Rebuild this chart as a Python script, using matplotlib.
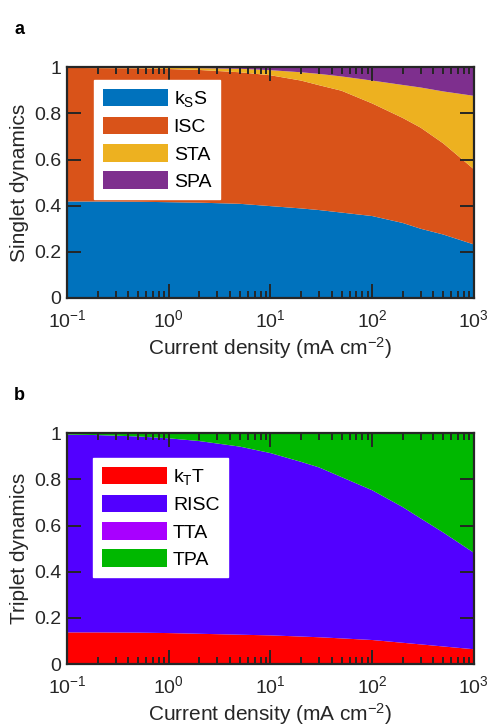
import matplotlib.pyplot as plt
from matplotlib.ticker import LogLocator, FixedLocator, FuncFormatter

plt.rcParams['font.family'] = ['Liberation Sans', 'DejaVu Sans']
plt.rcParams['mathtext.fontset'] = 'custom'
plt.rcParams['mathtext.rm'] = 'Liberation Sans'
plt.rcParams['mathtext.it'] = 'Liberation Sans:italic'

# current density (mA cm-2)
j = [0.1, 0.2, 0.5, 1, 2, 5, 10, 20, 30, 50, 100, 200, 300, 500, 1000]

# panel a, cumulative tops
a_kss = [0.418, 0.418, 0.417, 0.415, 0.413, 0.408, 0.398, 0.388, 0.381, 0.370, 0.355, 0.325, 0.300, 0.275, 0.232]
a_isc = [0.997, 0.996, 0.995, 0.992, 0.988, 0.978, 0.965, 0.942, 0.922, 0.898, 0.843, 0.780, 0.738, 0.670, 0.558]
a_sta = [0.999, 0.999, 0.999, 0.998, 0.996, 0.993, 0.987, 0.978, 0.971, 0.960, 0.942, 0.923, 0.912, 0.895, 0.876]

# panel b, cumulative tops
b_ktt = [0.137, 0.137, 0.136, 0.134, 0.131, 0.127, 0.124, 0.119, 0.116, 0.111, 0.104, 0.092, 0.085, 0.076, 0.064]
b_risc = [0.994, 0.992, 0.986, 0.978, 0.966, 0.942, 0.914, 0.876, 0.852, 0.810, 0.753, 0.680, 0.631, 0.570, 0.482]
b_tta = b_risc  # TTA share is too small to see

labels_a = ['k$_\\mathregular{S}$S', 'ISC', 'STA', 'SPA']
labels_b = ['k$_\\mathregular{T}$T', 'RISC', 'TTA', 'TPA']
cols_a = ['#0072BD', '#D95319', '#EDB120', '#7E2F8E']
cols_b = ['#FF0000', '#5200FF', '#A800FF', '#00B800']


def parts(tops):
    out = []
    prev = [0.0] * len(j)
    for t in tops + [[1.0] * len(j)]:
        out.append([t[i] - prev[i] for i in range(len(j))])
        prev = t
    return out


fig = plt.figure(figsize=(4.9, 7.28), dpi=100)
ax1 = fig.add_axes([0.137, 0.5907, 0.830, 0.317])
ax2 = fig.add_axes([0.137, 0.0879, 0.830, 0.317])

panels = [(ax1, parts([a_kss, a_isc, a_sta]), labels_a, cols_a, 'Singlet dynamics', 'a', (0.066, 0.944)),
          (ax2, parts([b_ktt, b_risc, b_tta]), labels_b, cols_b, 'Triplet dynamics', 'b', (0.064, 0.892))]

for ax, ys, labs, cols, ylab, tag, anchor in panels:
    ax.stackplot(j, ys, labels=labs, colors=cols, linewidth=0)
    ax.set_xscale('log')
    ax.set_xlim(0.1, 1000)
    ax.set_ylim(0, 1)
    ax.xaxis.set_major_locator(LogLocator(base=10, numticks=10))
    ax.xaxis.set_minor_locator(LogLocator(base=10, subs=range(2, 10), numticks=10))
    ax.yaxis.set_major_locator(FixedLocator([0, 0.2, 0.4, 0.6, 0.8, 1]))
    ax.yaxis.set_major_formatter(FuncFormatter(lambda v, p: '%g' % v))
    ax.tick_params(which='both', direction='in', top=True, right=True,
                   color='#262626', labelsize=14, labelcolor='#262626')
    ax.tick_params(which='major', length=10, width=1.4)
    ax.tick_params(which='minor', length=5, width=1.4)
    ax.tick_params(axis='y', which='major', pad=4)
    ax.tick_params(axis='x', which='major', pad=8)
    for s in ax.spines.values():
        s.set_linewidth(1.6)
        s.set_color('#262626')
    ax.set_xlabel('Current density (mA cm$^{-2}$)', fontsize=15, color='#262626', labelpad=3)
    ax.set_ylabel(ylab, fontsize=15, color='#262626', labelpad=4)
    leg = ax.legend(loc='upper left', bbox_to_anchor=anchor, borderaxespad=0, fontsize=14,
                    handlelength=3.35, handleheight=1.0, handletextpad=0.3,
                    fancybox=False, framealpha=1, edgecolor='white',
                    borderpad=0.45, labelspacing=0.4)
    ax.text(-0.13, 1.2, tag, transform=ax.transAxes, fontsize=13, fontweight='bold',
            va='top', ha='left')

fig.savefig('out.png', dpi=100)
